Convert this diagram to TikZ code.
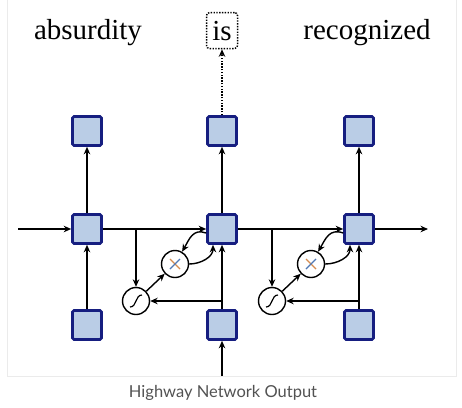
\documentclass[tikz,border=0pt]{standalone}
\usepackage{fontspec}
\usetikzlibrary{arrows.meta}
\setmainfont{Liberation Serif}
\newfontfamily\capfont{Lato}
\definecolor{cellfill}{RGB}{186,205,230}
\definecolor{celldraw}{RGB}{22,30,128}
\definecolor{framegray}{RGB}{235,235,235}
\definecolor{timesa}{RGB}{214,140,80}
\definecolor{timesb}{RGB}{80,120,180}

\begin{document}
\begin{tikzpicture}[x=1pt,y=-1pt,>={Stealth[length=7.5pt,width=6.5pt]},line width=1.4pt]
\tikzstyle{cell}=[rectangle,draw=celldraw,fill=cellfill,line width=2.6pt,rounded corners=1.5pt,minimum size=29pt,inner sep=0pt]
\tikzstyle{gate}=[circle,draw,fill=white,line width=1.4pt,minimum size=27pt,inner sep=0pt]
\tikzstyle{sigm}=[gate,path picture={\draw[line width=1.2pt] (path picture bounding box.center) ++(-6pt,-6pt) .. controls +(7pt,0pt) and +(-7pt,0pt) .. ++(12pt,12pt);}]
\tikzstyle{mult}=[gate,path picture={
  \draw[timesa,line width=1.2pt] (path picture bounding box.center) ++(-5pt,5pt) -- ++(10pt,-10pt);
  \draw[timesb,line width=1.2pt] (path picture bounding box.center) ++(-5pt,-5pt) -- ++(10pt,10pt);}]
\tikzstyle{word}=[font=\fontsize{29}{32}\selectfont,inner sep=0pt,anchor=base]
\tikzstyle{dots}=[dash pattern=on 1.4pt off 1.4pt]

\useasboundingbox (0,0) rectangle (462,407);
\draw[framegray,line width=1pt] (7,0) -- (7,376) -- (456,376) -- (456,0);

% words on top
\node[word] (w1) at (88,39) {absurdity};
\node[word,draw,dots,rounded corners=3pt,minimum width=31pt,minimum height=36pt,line width=1.5pt] (w2) at (222,40) {is};
\node[word] (w3) at (367,39) {recognized};

% cells
\node[cell] (out1) at (87,131) {};
\node[cell] (out2) at (222,131) {};
\node[cell] (out3) at (359,131) {};
\node[cell] (h1) at (87,229) {};
\node[cell] (h2) at (222,229) {};
\node[cell] (h3) at (359,229) {};
\node[cell] (in1) at (87,325) {};
\node[cell] (in2) at (222,325) {};
\node[cell] (in3) at (359,325) {};

% gates
\node[sigm] (sig2) at (136,301) {};
\node[mult] (mul2) at (175,264) {};
\node[sigm] (sig3) at (272,301) {};
\node[mult] (mul3) at (311,264) {};

\coordinate (start) at (18,229);
\coordinate (end) at (428,229);
\coordinate (below) at (222,376);
\coordinate (br2) at (136,229);
\coordinate (br3) at (272,229);
\coordinate (fb2) at (222,301);
\coordinate (fb3) at (359,301);

\node[font=\capfont\fontsize{16.5}{20}\selectfont,text=black!68] (cap) at (223,393) {Highway Network Output};

% first step
\draw[->] (start) -- (h1);
\draw[->] (in1) -- (h1);
\draw[->] (h1) -- (out1);
\draw[->] (h1) -- (h2);

% second step
\draw[->] (br2) -- (sig2);
\draw[->] (sig2) -- (mul2);
\draw[->] ([yshift=-4pt]h2.west) to[out=160,in=60,looseness=1.2] (mul2);
\draw[->] (mul2) to[out=0,in=-90] ([xshift=-9pt]h2.south);
\draw[->] (below) -- (in2);
\draw[->] (in2) -- (h2);
\draw[->] (fb2) -- (fb2 -| sig2.east);
\draw[->] (h2) -- (out2);
\draw[->,dots] (out2) -- (w2);
\draw[->] (h2) -- (h3);

% third step
\draw[->] (br3) -- (sig3);
\draw[->] (sig3) -- (mul3);
\draw[->] ([yshift=-4pt]h3.west) to[out=160,in=60,looseness=1.2] (mul3);
\draw[->] (mul3) to[out=0,in=-90] ([xshift=-9pt]h3.south);
\draw[->] (in3) -- (h3);
\draw[->] (fb3) -- (fb3 -| sig3.east);
\draw[->] (h3) -- (out3);
\draw[->] (h3) -- (end);
\end{tikzpicture}
\end{document}
